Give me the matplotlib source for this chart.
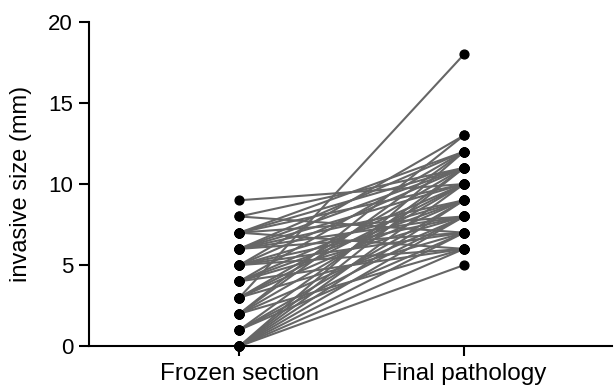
import matplotlib
matplotlib.use("Agg")
import matplotlib.pyplot as plt

plt.rcParams['font.family'] = ['Liberation Sans', 'DejaVu Sans']

groups = ["Frozen section", "Final pathology"]
frozen = [0, 0, 0, 0, 0, 0, 0, 0, 1, 1, 1, 2, 2, 2, 2, 3, 3, 3, 3, 4, 4, 4, 4,
          5, 5, 5, 5, 5, 6, 6, 6, 6, 6, 7, 7, 7, 7, 7, 8, 8, 9, 6, 5, 4, 3, 2, 1]
final = [5, 6, 7, 8, 9, 10, 11, 12, 7, 9, 11, 6, 8, 10, 13, 18, 7, 9, 11, 8, 10, 12, 6,
         7, 9, 11, 13, 6, 8, 10, 12, 7, 9, 6, 11, 8, 10, 12, 11, 7, 10, 11, 8, 9, 10, 12, 8]

fig = plt.figure(figsize=(6.14, 3.92), dpi=100)
ax = fig.add_axes([0.145, 0.117, 0.852, 0.827])

for a, b in zip(frozen, final):
    ax.plot([1, 2], [a, b], color="#666666", lw=1.5, zorder=1)
ax.scatter([1] * len(frozen), frozen, s=40, color="black", zorder=3, clip_on=False)
ax.scatter([2] * len(final), final, s=40, color="black", zorder=3, clip_on=False)

ax.set_xlim(0.33, 2.66)
ax.set_ylim(0, 20)
ax.set_yticks([0, 5, 10, 15, 20])
ax.set_xticks([1, 2])
ax.set_xticklabels(groups)
ax.set_ylabel("invasive size (mm)", fontsize=17, labelpad=12)
ax.tick_params(width=1.5, length=7.5)
ax.tick_params(axis="x", labelsize=17.5, pad=5)
ax.tick_params(axis="y", labelsize=16, pad=4)
for s in ["top", "right"]:
    ax.spines[s].set_visible(False)
for s in ["left", "bottom"]:
    ax.spines[s].set_linewidth(1.5)

fig.savefig("out.png", dpi=100)
